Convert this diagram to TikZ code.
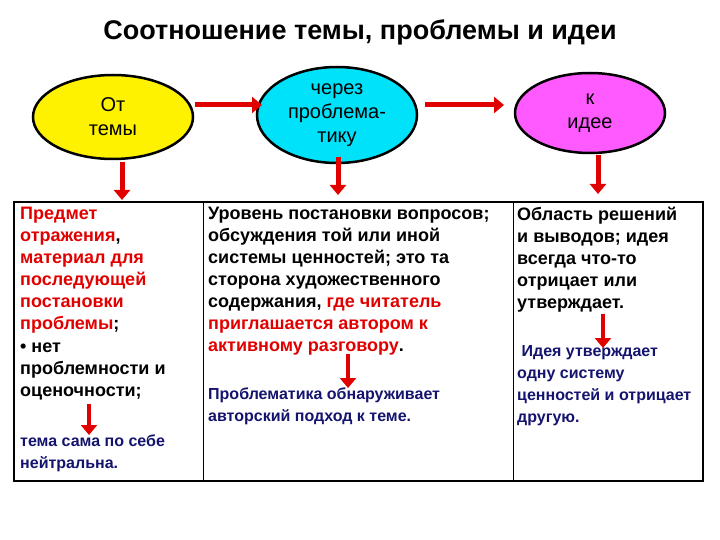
\documentclass[tikz,border=0pt]{standalone}
\usepackage{fontspec}
\setmainfont{Liberation Sans}
\usetikzlibrary{shapes.geometric,arrows.meta}
\definecolor{navy}{RGB}{20,20,110}
\definecolor{rd}{RGB}{225,0,0}
\definecolor{cy}{RGB}{0,225,250}
\definecolor{mg}{RGB}{255,90,255}
\tikzset{
 x=1pt,y=-1pt,
 oval/.style={ellipse,draw,line width=2.5pt,align=center,font=\fontsize{20}{24}\selectfont,inner sep=0pt},
 arr/.style={draw=rd,line width=5pt,-{Triangle[length=10pt,width=16pt]}},
 col/.style={anchor=north west,align=left,inner sep=0pt,font=\fontsize{18}{22}\selectfont\bfseries},
 small/.style={anchor=north west,align=left,inner sep=0pt,font=\fontsize{16}{22}\selectfont\bfseries,text=navy},
}
\begin{document}
\begin{tikzpicture}
\useasboundingbox (0,0) rectangle (720,540);
\node (title) at (360,32) {\fontsize{27}{30}\selectfont\bfseries Соотношение темы, проблемы и идеи};
\node[oval,fill=yellow,minimum width=160,minimum height=84] (e1) at (113,117) {От\\темы};
\node[oval,fill=cy,minimum width=160,minimum height=96] (e2) at (337,115) {через\\проблема-\\тику};
\node[oval,fill=mg,minimum width=150,minimum height=80] (e3) at (590,113) {к\\идее};
\draw[line width=2pt] (14,202) rectangle (703,481);
\draw[line width=1pt] (203,202) -- (203,481) (513,202) -- (513,481);
\coordinate (a1s) at (195,105); \coordinate (a1e) at (262,105);
\coordinate (a2s) at (425,105); \coordinate (a2e) at (504,105);
\draw[arr] (a1s) -- (a1e);
\draw[arr] (a2s) -- (a2e);
\coordinate (d1s) at (122,162); \coordinate (d1e) at (122,200);
\coordinate (d2s) at (338,157); \coordinate (d2e) at (338,195);
\coordinate (d3s) at (598,155); \coordinate (d3e) at (598,194);
\draw[arr] (d1s) -- (d1e);
\draw[arr] (d2s) -- (d2e);
\draw[arr] (d3s) -- (d3e);
\node[col] (c1) at (20,207) {\textcolor{rd}{Предмет}\\\textcolor{rd}{отражения},\\\textcolor{rd}{материал для}\\\textcolor{rd}{последующей}\\\textcolor{rd}{постановки}\\\textcolor{rd}{проблемы};\\[1pt]• нет\\проблемности и\\оценочности;};
\node[small] (c1b) at (20,435) {тема сама по себе\\нейтральна.};
\node[col] (c2) at (208,207) {Уровень постановки вопросов;\\обсуждения той или иной\\системы ценностей; это та\\сторона художественного\\содержания, \textcolor{rd}{где читатель}\\\textcolor{rd}{приглашается автором к}\\\textcolor{rd}{активному разговору}.};
\node[small] (c2b) at (208,388) {Проблематика обнаруживает\\авторский подход к теме.};
\node[col] (c3) at (517,207) {Область решений\\и выводов; идея\\всегда что-то\\отрицает или\\утверждает.};
\node[small] (c3b) at (517,345) {\ Идея утверждает\\одну систему\\ценностей и отрицает\\другую.};
\coordinate (i1s) at (89,404); \coordinate (i1e) at (89,435);
\coordinate (i2s) at (348,354); \coordinate (i2e) at (348,388);
\coordinate (i3s) at (603,314); \coordinate (i3e) at (603,348);
\draw[arr,line width=4pt] (i1s) -- (i1e);
\draw[arr,line width=4pt] (i2s) -- (i2e);
\draw[arr,line width=4pt] (i3s) -- (i3e);
\end{tikzpicture}
\end{document}
